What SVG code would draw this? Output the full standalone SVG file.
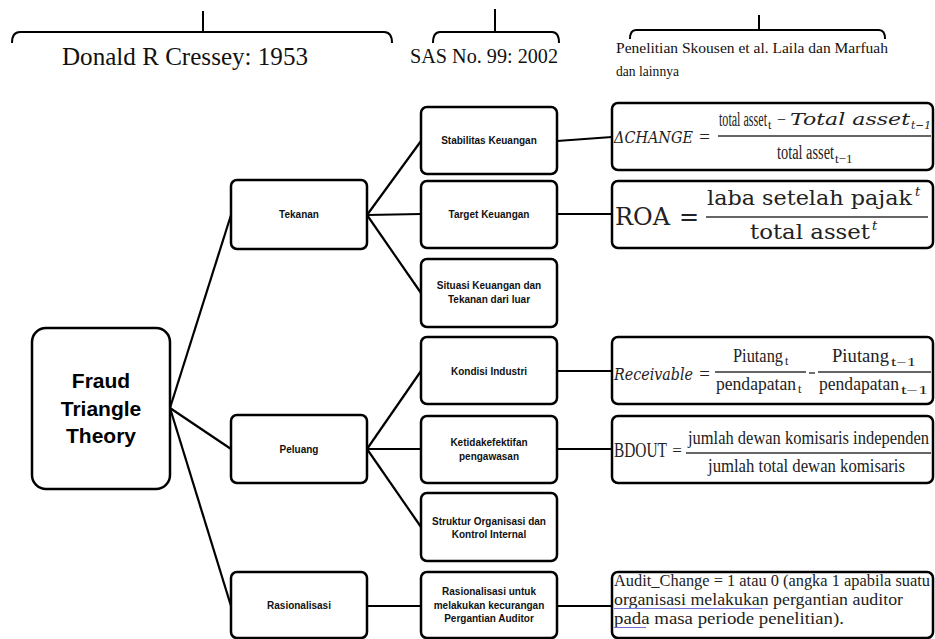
<svg xmlns="http://www.w3.org/2000/svg" width="935" height="639" viewBox="0 0 935 639">
<style>
.box{fill:#fff;stroke:#000;stroke-width:2.5}
.lbl{font-family:"Liberation Sans",Arial,sans-serif;font-weight:bold;font-size:10px;fill:#111;text-anchor:middle}
.big{font-family:"Liberation Sans",Arial,sans-serif;font-weight:bold;font-size:21px;fill:#000;text-anchor:middle}
.hd{font-family:"Liberation Serif","Times New Roman",serif;fill:#111}
.m{font-family:"Liberation Serif","Times New Roman",serif;fill:#222}
.mi{font-family:"DejaVu Serif",serif;font-style:italic;fill:#222}
.dj{font-family:"DejaVu Serif",serif;fill:#222}
.fr{stroke:#333;stroke-width:1.4}
.brace{fill:none;stroke:#000;stroke-width:2}
#connectors line{stroke:#000;stroke-width:2.2}
</style>

<g id="headers">
<path class="brace" d="M12,43 Q12,32 20,32 L384,32 Q392,32 392,43 M203,32 L203,11"/>
<text class="hd" x="62" y="65" font-size="25" textLength="246" lengthAdjust="spacingAndGlyphs">Donald R Cressey: 1953</text>
<path class="brace" d="M433,43 Q433,32 440,32 L552,32 Q559,32 559,43 M495,32 L495,9"/>
<text class="hd" x="410" y="63" font-size="20" textLength="148" lengthAdjust="spacingAndGlyphs">SAS No. 99: 2002</text>
<path class="brace" d="M630,39 Q630,30 636,30 L879,30 Q885,30 885,39 M759,30 L759,15"/>
<text class="hd" x="616" y="53" font-size="14.5" textLength="272" lengthAdjust="spacingAndGlyphs">Penelitian Skousen et al. Laila dan Marfuah</text>
<text class="hd" x="616" y="76" font-size="14.5" textLength="63" lengthAdjust="spacingAndGlyphs">dan lainnya</text>
</g>

<g id="connectors">
<line x1="170" y1="408" x2="231" y2="215"/>
<line x1="170" y1="408" x2="231" y2="449"/>
<line x1="170" y1="408" x2="231" y2="606"/>
<line x1="367" y1="215" x2="421" y2="141"/>
<line x1="367" y1="215" x2="421" y2="214"/>
<line x1="367" y1="215" x2="421" y2="293"/>
<line x1="367" y1="449" x2="421" y2="371"/>
<line x1="367" y1="449" x2="421" y2="449"/>
<line x1="367" y1="449" x2="421" y2="527"/>
<line x1="367" y1="606" x2="421" y2="606"/>
<line x1="557" y1="141" x2="612" y2="137"/>
<line x1="557" y1="214" x2="612" y2="214"/>
<line x1="557" y1="371" x2="612" y2="371"/>
<line x1="557" y1="449" x2="612" y2="449"/>
<line x1="557" y1="606" x2="612" y2="606"/>
</g>

<g id="fraud">
<rect class="box" x="32" y="328" width="138" height="161" rx="14"/>
<text class="big" x="101" y="388">Fraud</text>
<text class="big" x="101" y="416">Triangle</text>
<text class="big" x="101" y="443">Theory</text>
</g>

<g id="tekanan">
<rect class="box" x="231" y="180" width="136" height="69" rx="6"/>
<text class="lbl" x="299" y="218">Tekanan</text>
</g>
<g id="peluang">
<rect class="box" x="231" y="415" width="136" height="68" rx="6"/>
<text class="lbl" x="299" y="453">Peluang</text>
</g>
<g id="rasionalisasi">
<rect class="box" x="231" y="572" width="136" height="66" rx="6"/>
<text class="lbl" x="299" y="609">Rasionalisasi</text>
</g>

<g id="stabilitas">
<rect class="box" x="421" y="107" width="136" height="67" rx="6"/>
<text class="lbl" x="489" y="144">Stabilitas  Keuangan</text>
</g>
<g id="target">
<rect class="box" x="421" y="181" width="136" height="67" rx="6"/>
<text class="lbl" x="489" y="218">Target  Keuangan</text>
</g>
<g id="situasi">
<rect class="box" x="421" y="259" width="136" height="68" rx="6"/>
<text class="lbl" x="489" y="289">Situasi  Keuangan  dan</text>
<text class="lbl" x="489" y="303">Tekanan  dari luar</text>
</g>
<g id="kondisi">
<rect class="box" x="421" y="337" width="136" height="67" rx="6"/>
<text class="lbl" x="489" y="375">Kondisi Industri</text>
</g>
<g id="ketidakefektifan">
<rect class="box" x="421" y="416" width="136" height="67" rx="6"/>
<text class="lbl" x="489" y="446">Ketidakefektifan</text>
<text class="lbl" x="489" y="460">pengawasan</text>
</g>
<g id="struktur">
<rect class="box" x="421" y="493" width="136" height="68" rx="6"/>
<text class="lbl" x="489" y="525">Struktur  Organisasi  dan</text>
<text class="lbl" x="489" y="538">Kontrol  Internal</text>
</g>
<g id="rasionalisasi-untuk">
<rect class="box" x="421" y="572" width="136" height="66" rx="6"/>
<text class="lbl" x="489" y="595">Rasionalisasi  untuk</text>
<text class="lbl" x="489" y="609">melakukan  kecurangan</text>
<text class="lbl" x="489" y="622">Pergantian  Auditor</text>
</g>

<g id="f-change">
<rect class="box" x="612" y="103" width="321" height="67" rx="6"/>
<text class="mi" x="614" y="143" font-size="17" textLength="79" lengthAdjust="spacingAndGlyphs">ΔCHANGE</text>
<text class="m" x="704.5" y="143" font-size="19" text-anchor="middle">=</text>
<line class="fr" x1="718" y1="136" x2="931" y2="136"/>
<text class="m" x="719" y="126" font-size="20" textLength="48" lengthAdjust="spacingAndGlyphs">total asset</text>
<text class="m" x="768" y="129" font-size="12">t</text>
<text class="m" x="777" y="125" font-size="16" textLength="9" lengthAdjust="spacingAndGlyphs">−</text>
<text class="mi" x="790" y="125" font-size="16" textLength="120" lengthAdjust="spacingAndGlyphs">Total asset</text>
<text class="mi" x="911" y="129" font-size="11" textLength="20" lengthAdjust="spacingAndGlyphs">t−1</text>
<text class="m" x="777" y="159" font-size="20" textLength="57" lengthAdjust="spacingAndGlyphs">total asset</text>
<text class="m" x="835" y="163" font-size="13">t−1</text>
</g>

<g id="f-roa">
<rect class="box" x="612" y="181" width="321" height="67" rx="6"/>
<text class="dj" x="615" y="225" font-size="24" textLength="55" lengthAdjust="spacingAndGlyphs">ROA</text>
<text class="dj" x="689" y="225" font-size="24" text-anchor="middle">=</text>
<line class="fr" x1="706" y1="217" x2="928" y2="217"/>
<text class="dj" x="707" y="205" font-size="21" textLength="205" lengthAdjust="spacingAndGlyphs">laba setelah pajak</text>
<text class="dj" x="915" y="196" font-size="13" font-style="italic">t</text>
<text class="dj" x="750" y="239" font-size="21" textLength="120" lengthAdjust="spacingAndGlyphs">total asset</text>
<text class="dj" x="872" y="230" font-size="13" font-style="italic">t</text>
</g>

<g id="f-receivable">
<rect class="box" x="612" y="337" width="321" height="67" rx="6"/>
<text class="mi" x="614" y="380" font-size="17" textLength="79" lengthAdjust="spacingAndGlyphs">Receivable</text>
<text class="m" x="704.5" y="380" font-size="19" text-anchor="middle">=</text>
<line class="fr" x1="715" y1="372" x2="806" y2="372"/>
<text class="m" x="733" y="362" font-size="19" textLength="50" lengthAdjust="spacingAndGlyphs">Piutang</text>
<text class="m" x="785" y="365" font-size="12">t</text>
<text class="m" x="716" y="390" font-size="19" textLength="80" lengthAdjust="spacingAndGlyphs">pendapatan</text>
<text class="m" x="798" y="393" font-size="12">t</text>
<line class="fr" x1="809" y1="373" x2="815" y2="373"/>
<line class="fr" x1="818" y1="372" x2="931" y2="372"/>
<text class="m" x="832" y="362" font-size="19" textLength="57" lengthAdjust="spacingAndGlyphs">Piutang</text>
<text class="m" x="891" y="366" font-size="12" textLength="25" lengthAdjust="spacingAndGlyphs">t−1</text>
<text class="m" x="819" y="390" font-size="19" textLength="80" lengthAdjust="spacingAndGlyphs">pendapatan</text>
<text class="m" x="901" y="394" font-size="12" textLength="27" lengthAdjust="spacingAndGlyphs">t−1</text>
</g>

<g id="f-bdout">
<rect class="box" x="612" y="416" width="321" height="67" rx="6"/>
<text class="m" x="614" y="457" font-size="21" textLength="53" lengthAdjust="spacingAndGlyphs">BDOUT</text>
<text class="m" x="677" y="456" font-size="17" text-anchor="middle">=</text>
<line class="fr" x1="686" y1="453" x2="931" y2="453"/>
<text class="m" x="688" y="444" font-size="19" textLength="241" lengthAdjust="spacingAndGlyphs">jumlah dewan komisaris independen</text>
<text class="m" x="708" y="472" font-size="19" textLength="197" lengthAdjust="spacingAndGlyphs">jumlah total dewan komisaris</text>
</g>

<g id="f-audit">
<rect class="box" x="612" y="572" width="321" height="66" rx="6"/>
<text class="m" x="614" y="586" font-size="16.5" fill="#111" textLength="316" lengthAdjust="spacingAndGlyphs">Audit_Change = 1 atau 0 (angka 1 apabila suatu</text>
<text class="m" x="614" y="605" font-size="16.5" fill="#111" textLength="289" lengthAdjust="spacingAndGlyphs">organisasi  melakukan pergantian auditor</text>
<text class="m" x="614" y="624" font-size="16.5" fill="#111" textLength="230" lengthAdjust="spacingAndGlyphs">pada masa periode penelitian).</text>
<line x1="614" y1="608.5" x2="762" y2="608.5" stroke="#6f6fd8" stroke-width="1"/>
<line x1="614" y1="627.5" x2="646" y2="627.5" stroke="#6f6fd8" stroke-width="1"/>
</g>
</svg>
